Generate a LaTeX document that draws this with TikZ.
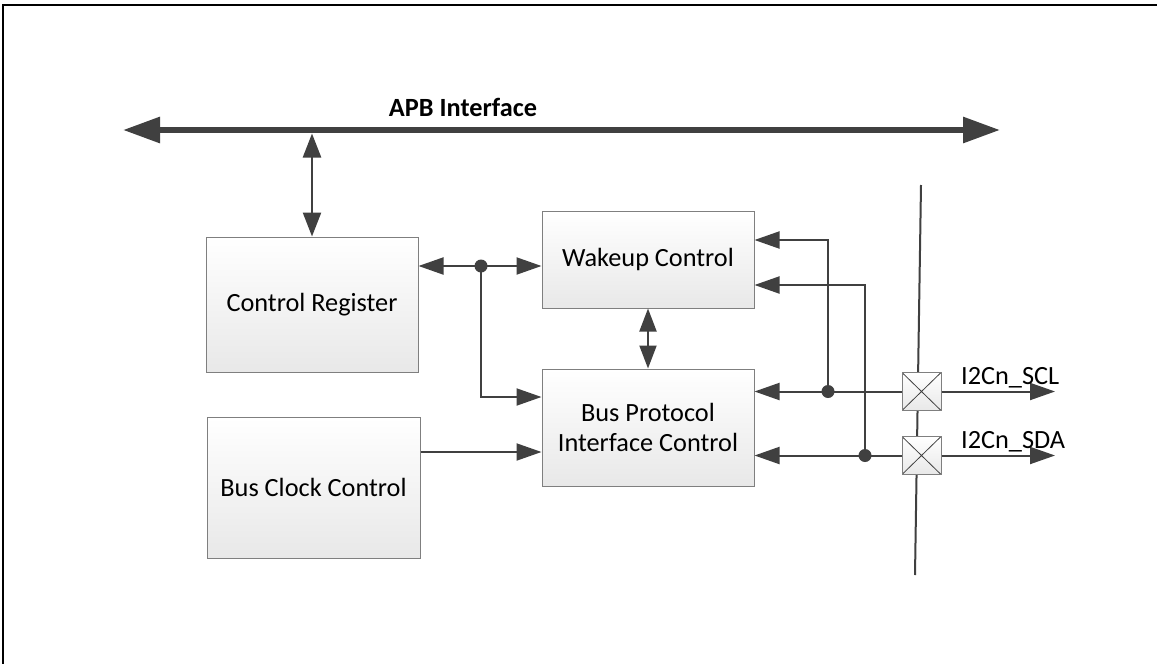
\documentclass[tikz,border=0pt]{standalone}
\usepackage{fontspec}
\setmainfont{Carlito}
\usetikzlibrary{arrows.meta}
\definecolor{linec}{HTML}{404040}
\definecolor{boxc}{HTML}{7F7F7F}
\tikzset{
  txt/.style={font=\fontsize{26.3pt}{30pt}\selectfont, text=black},
  blk/.style={txt, draw=boxc, line width=1pt, top color=white, bottom color=black!9,
              inner sep=0pt, align=center},
  pinbox/.style={draw=boxc, line width=1pt, top color=white, bottom color=black!9,
              minimum width=39pt, minimum height=38pt, inner sep=0pt,
              path picture={\draw[linec, line width=0.8pt]
                (path picture bounding box.north west) -- (path picture bounding box.south east)
                (path picture bounding box.north east) -- (path picture bounding box.south west);}},
  conn/.style={draw=linec, line width=2pt, -{Triangle[length=25pt,width=17pt]}},
  bi/.style={draw=linec, line width=2.4pt, {Triangle[length=24pt,width=18pt]}-{Triangle[length=24pt,width=18pt]}},
  bus/.style={draw=linec, line width=6pt, {Triangle[length=37pt,width=25pt]}-{Triangle[length=37pt,width=25pt]}},
  pinline/.style={draw=linec, line width=2pt},
  dot/.style={fill=linec}
}
\begin{document}
\begin{tikzpicture}[x=1pt,y=-1pt]
\useasboundingbox (0,0) rectangle (1157,664);
\fill[white] (0,0) rectangle (1157,664);
\draw[line width=2pt] (3,664) -- (3,5) -- (1157,5);

% APB bus
\coordinate (apbL) at (123,130);
\coordinate (apbR) at (1000,130);
\draw[bus] (apbL) -- (apbR);
\node[txt, font=\fontsize{26.3pt}{30pt}\selectfont\bfseries, anchor=base] (apb) at (463,116) {APB Interface};

% blocks
\node[blk, minimum width=212pt, minimum height=135pt] (CR) at (312,304.5) {Control Register};
\node[blk, minimum width=212pt, minimum height=97pt] (WC) at (648,259.5) {Wakeup Control};
\node[blk, minimum width=212pt, minimum height=117pt] (BP) at (648,427.5) {Bus Protocol\\Interface Control};
\node[blk, minimum width=213pt, minimum height=141pt] (BC) at (313.5,487.5) {Bus Clock Control};

% APB <-> Control Register
\coordinate (apbT) at (312,133.5);
\draw[bi] (apbT) -- (CR.north);

% Control Register <-> Wakeup / Bus Protocol
\coordinate (j1) at (481,266);
\draw[bi, line width=2pt, {Triangle[length=25pt,width=17pt]}-{Triangle[length=25pt,width=17pt]}] (CR.east |- j1) -- (WC.west |- j1);
\draw[conn] (j1) |- (BP.west |- 0,397);
\fill[dot] (j1) circle (6.5pt);

% Bus clock -> Bus protocol
\draw[conn] (BC.east |- 0,452) -- (BP.west |- 0,452);

% Wakeup <-> Bus protocol
\draw[bi, line width=2pt, {Triangle[length=23pt,width=17pt]}-{Triangle[length=23pt,width=17pt]}] (WC.south) -- (BP.north);

% pin line (drawn beneath the pads)
\coordinate (pt) at (921,185);
\coordinate (pb) at (915,575);
\draw[pinline] (pt) -- (pb);

% pins
\node[pinbox] (SCL) at (921.5,391.5) {};
\node[pinbox] (SDA) at (921.5,455.5) {};

\coordinate (c1) at (828,391.5);
\coordinate (c2) at (865,455.5);
\draw[conn] (SCL.west) -- (BP.east |- SCL.west);
\draw[conn] (SDA.west) -- (BP.east |- SDA.west);
\draw[conn] (c1) |- (WC.east |- 0,240);
\draw[conn] (c2) |- (WC.east |- 0,285);
\fill[dot] (c1) circle (6.5pt);
\fill[dot] (c2) circle (6.5pt);

% outputs
\coordinate (o1) at (1055,391.5);
\coordinate (o2) at (1055,455.5);
\draw[conn] (SCL.east) -- (o1);
\draw[conn] (SDA.east) -- (o2);
\node[txt, anchor=base west, inner sep=0pt] (lscl) at (961,384) {I2Cn\_SCL};
\node[txt, anchor=base west, inner sep=0pt] (lsda) at (961,448) {I2Cn\_SDA};
\end{tikzpicture}
\end{document}
